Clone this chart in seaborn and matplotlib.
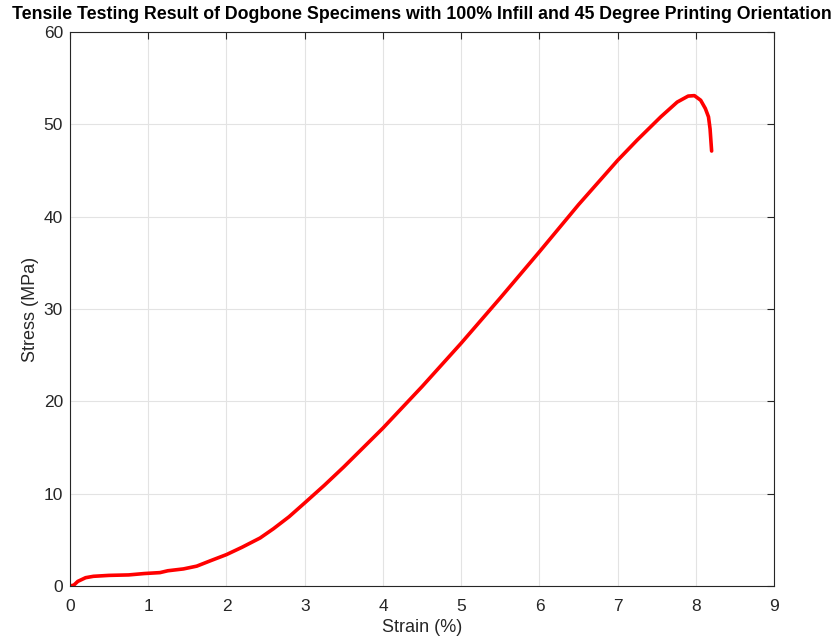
"""Stress-strain curve of a 100% infill, 45 degree dogbone specimen."""

import matplotlib
matplotlib.use("Agg")
import matplotlib.pyplot as plt
import pandas as pd
import seaborn as sns

# values
strain = [0.00, 0.05, 0.10, 0.20, 0.30, 0.50, 0.75, 0.95, 1.15, 1.25, 1.45,
          1.62, 1.80, 2.00, 2.20, 2.43, 2.60, 2.80, 3.00, 3.25, 3.50, 3.75,
          4.00, 4.50, 5.00, 5.50, 6.00, 6.50, 7.00, 7.25, 7.55, 7.76, 7.90,
          7.98, 8.06, 8.12, 8.16, 8.18, 8.20]
stress = [0.0, 0.1, 0.5, 0.9, 1.05, 1.15, 1.2, 1.35, 1.45, 1.65, 1.85,
          2.15, 2.75, 3.4, 4.2, 5.2, 6.2, 7.5, 9.0, 10.9, 12.9, 15.0,
          17.1, 21.6, 26.3, 31.2, 36.2, 41.3, 46.1, 48.3, 50.8, 52.4, 53.05,
          53.1, 52.6, 51.7, 50.8, 49.5, 47.1]

x_ticks = list(range(0, 10))
y_ticks = list(range(0, 70, 10))

df = pd.DataFrame({"strain": strain, "stress": stress})

sns.set_theme(style="whitegrid")
plt.rcParams["font.family"] = ["Liberation Sans", "DejaVu Sans"]

fig = plt.figure(figsize=(8.37, 6.38), dpi=100)
ax = fig.add_axes([0.0836, 0.0815, 0.8414, 0.8685])

sns.lineplot(data=df, x="strain", y="stress", color="#ff0000", linewidth=2.6,
             sort=False, ax=ax)

ax.set_xlim(0, 9)
ax.set_ylim(0, 60)
ax.set_xticks(x_ticks)
ax.set_yticks(y_ticks)
ax.grid(True, color="#e3e3e3", linewidth=0.8)
for side in ax.spines.values():
    side.set_color("#262626")
    side.set_linewidth(0.8)
ax.tick_params(direction="in", length=5, width=0.8, color="#262626",
               top=True, right=True, labelsize=12.5, labelcolor="#262626")
ax.tick_params(axis="x", pad=9)
ax.tick_params(axis="y", pad=5)
ax.set_xlabel("Strain (%)", fontsize=13, color="#262626", labelpad=4)
ax.set_ylabel("Stress (MPa)", fontsize=13, color="#262626", labelpad=3)
ax.set_title("Tensile Testing Result of Dogbone Specimens with 100% Infill "
             "and 45 Degree Printing Orientation",
             fontsize=12.8, fontweight="bold", color="black", pad=9)

fig.savefig("out.png", dpi=100, facecolor="white")
